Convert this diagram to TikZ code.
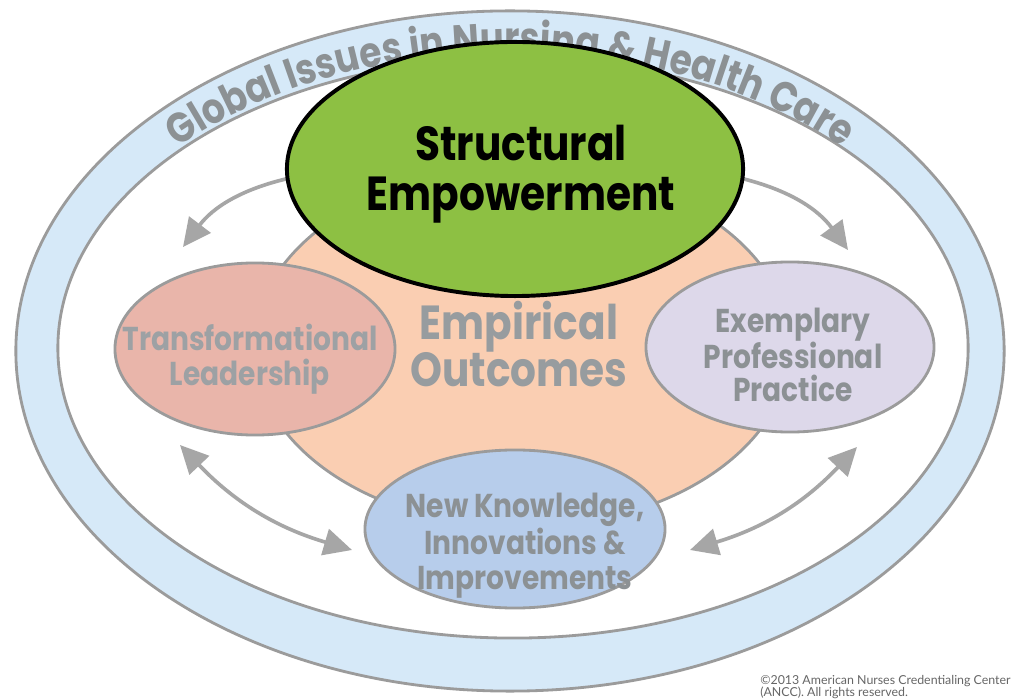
\documentclass[tikz,border=0pt]{standalone}
\usepackage{fontspec}
\usepackage{tikz}
\usetikzlibrary{arrows.meta,shapes,decorations.text,positioning}
\newfontfamily\magfont{Poppins}[FakeStretch=0.85]
\newfontfamily\notefont{Lato}
\definecolor{ringblue}{RGB}{214,233,248}
\definecolor{rimgray}{RGB}{155,155,155}
\definecolor{txtgray}{RGB}{140,145,148}
\definecolor{peach}{RGB}{250,206,178}
\definecolor{sgreen}{RGB}{141,192,67}
\definecolor{tlpink}{RGB}{233,181,170}
\definecolor{eplav}{RGB}{221,216,234}
\definecolor{nkblue}{RGB}{183,205,235}
\definecolor{arrowgray}{RGB}{166,166,166}

\begin{document}
\begin{tikzpicture}[x=0.025cm,y=0.025cm,
    blob/.style 2 args={ellipse,draw=rimgray,line width=2pt,inner sep=0pt,
        minimum width=#1*0.05cm,minimum height=#2*0.05cm},
    lbl/.style={text=txtgray,align=center,inner sep=0pt,
        font=\magfont\bfseries\fontsize{23.5}{25}\selectfont},
    flow/.style={draw=arrowgray,line width=2.6pt,-{Triangle[length=20pt,width=19pt]}},
    both/.style={flow,{Triangle[length=20pt,width=19pt]}-{Triangle[length=20pt,width=19pt]}}]
        \useasboundingbox[fill=white] (0,0) rectangle (1013,698);

        % outer ring
        \node[blob={494}{340},fill=ringblue] (ring) at (510,347) {};
        \node[blob={455}{290},fill=white] (inner) at (513,350) {};
        \path[decorate,decoration={text along path,text align=center,
            text={|\magfont\bfseries\fontsize{30}{30}\selectfont\color{txtgray}|Global Issues in Nursing {\&} Health Care}}]
            ([shift={(140:455 and 298)}]ring.center) arc[start angle=140,end angle=40,x radius=455,y radius=298];

        % arrow ends
        \coordinate (tlA) at (290,520);
        \coordinate (tlB) at (183,451);
        \coordinate (trA) at (740,520);
        \coordinate (trB) at (848,448);
        \coordinate (blA) at (180,253);
        \coordinate (blB) at (352,148);
        \coordinate (brA) at (690,148);
        \coordinate (brB) at (857,251);
        \draw[flow] (tlA) to[bend right=20] (tlB);
        \draw[flow] (trA) to[bend left=20] (trB);
        \draw[both] (blA) to[bend right=15] (blB);
        \draw[both] (brA) to[bend right=15] (brB);

        % the five ellipses
        \node[blob={268}{180},fill=peach] (EO) at (522,351) {};
        \node[blob={140}{86},fill=tlpink] (TL) at (255,349) {};
        \node[blob={144}{85},fill=eplav] (EP) at (790,351) {};
        \node[blob={150}{79},fill=nkblue] (NK) at (515,169) {};
        \node[blob={228}{127},fill=sgreen,draw=black,line width=2.8pt] (SE) at (515,529) {};

        \node[lbl,text=black,font=\magfont\bfseries\fontsize{34}{35.6}\selectfont] (SEtext) at (521,524) {Structural\\Empowerment};
        \node[lbl,text=txtgray!90!white,font=\magfont\bfseries\fontsize{34}{34}\selectfont] (EOtext) at (519,354) {Empirical\\Outcomes};
        \node[lbl,text=txtgray!85!white] (TLtext) at (250,339) {Transformational\\Leadership};
        \node[lbl,font=\magfont\bfseries\fontsize{23.5}{23.5}\selectfont] (EPtext) at (793,343) {Exemplary\\Professional\\Practice};
        \node[lbl] (NKtext) at (525,152) {New Knowledge,\\Innovations \&\\Improvements};

        \node[anchor=north west,align=left,inner sep=0pt,text=black!60,
            font=\notefont\fontsize{8.8}{8.8}\selectfont] (copy) at (760,23)
            {\textcopyright2013 American Nurses Credentialing Center\\(ANCC). All rights reserved.};
\end{tikzpicture}
\end{document}
